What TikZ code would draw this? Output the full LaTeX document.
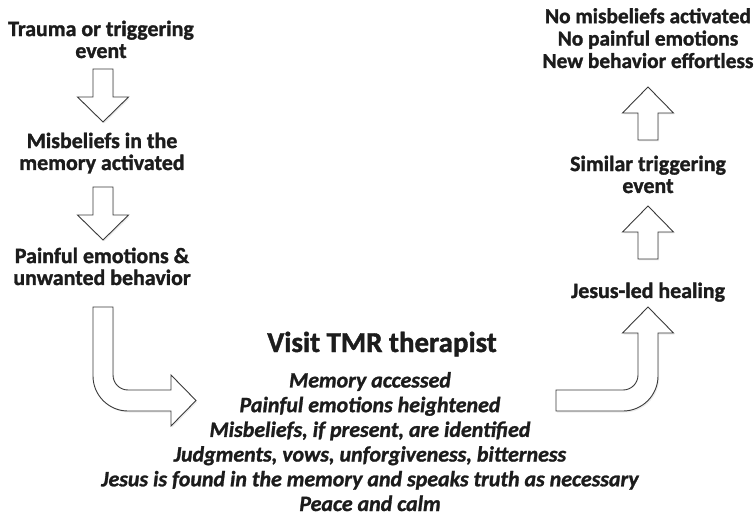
\documentclass[tikz,border=0pt]{standalone}
\usepackage{fontspec}
\setmainfont{Carlito}[BoldFeatures={FakeBold=1.4},BoldItalicFeatures={FakeBold=1.2}]
\usepackage{xcolor}
\usetikzlibrary{shadows}

\definecolor{inkdark}{HTML}{1C1C1C}
\definecolor{edgegray}{HTML}{3A3A3A}

\begin{document}
\begin{tikzpicture}[x=1bp,y=-1bp,
    stage/.style={font=\bfseries\fontsize{22}{22}\selectfont,text=inkdark,
                  align=center,inner sep=0pt},
    title/.style={font=\bfseries\fontsize{29}{29}\selectfont,text=inkdark,
                  inner sep=0pt},
    points/.style={font=\bfseries\itshape\fontsize{22}{24.8}\selectfont,
                   text=inkdark,align=center,inner sep=0pt},
    blockline/.style={draw=edgegray,line width=0.9bp,fill=white,
                      drop shadow={opacity=0.15,shadow xshift=1.2bp,
                                   shadow yshift=-1.5bp}},
    blockdown/.pic={\path[blockline] (-10,0) -- (10,0) -- (10,28) -- (25.5,28)
                      -- (0,53) -- (-25.5,28) -- (-10,28) -- cycle;},
    blockup/.pic={\path[blockline] (-10,0) -- (10,0) -- (10,-27) -- (25.5,-27)
                      -- (0,-53) -- (-25.5,-27) -- (-10,-27) -- cycle;}]
  \useasboundingbox (0,0) rectangle (756,518);

  % left column (base = last line)
  \node[stage,anchor=base] (trauma)    at (101,58)  {Trauma or triggering\\event};
  \node[stage,anchor=base] (misbelief) at (102,170) {Misbeliefs in the\\memory activated};
  \node[stage,anchor=base] (painful)   at (102,285) {Painful emotions \&\\unwanted behavior};

  % therapy session
  \node[title,anchor=base]  (visit)   at (382,352) {Visit TMR therapist};
  \node[points,anchor=base] (session) at (370,511)
    {Memory accessed\\Painful emotions heightened\\Misbeliefs, if present, are identified\\
     Judgments, vows, unforgiveness, bitterness\\
     Jesus is found in the memory and speaks truth as necessary\\Peace and calm};

  % right column
  \node[stage,anchor=base] (healing) at (648,298) {Jesus-led healing};
  \node[stage,anchor=base] (similar) at (648,193) {Similar triggering\\event};
  \node[stage,anchor=base,font=\bfseries\fontsize{21.4}{22.5}\selectfont] (outcome) at (648,68)
    {No misbeliefs activated\\No painful emotions\\New behavior effortless};

  \pic (down1) at (103,69)  {blockdown};
  \pic (down2) at (103,187) {blockdown};
  \pic (up1)   at (648,259) {blockup};
  \pic (up2)   at (648,140) {blockup};

  % bent arrows in and out of the session
  \path[blockline] (93,307) -- (113,307) -- (113,375)
      .. controls (113,383.3) and (119.7,390) .. (128,390)
      -- (171,390) -- (171,375) -- (196,400.5) -- (171,426) -- (171,411) -- (128,411)
      .. controls (108.7,411) and (93,395.3) .. (93,376) -- cycle;
  \path[blockline] (556,390) -- (623,390)
      .. controls (631.3,390) and (638,383.3) .. (638,375)
      -- (638,333) -- (622.5,333) -- (648,307) -- (673.5,333) -- (658,333) -- (658,376)
      .. controls (658,395.3) and (642.3,411) .. (623,411) -- (556,411) -- cycle;
\end{tikzpicture}
\end{document}
